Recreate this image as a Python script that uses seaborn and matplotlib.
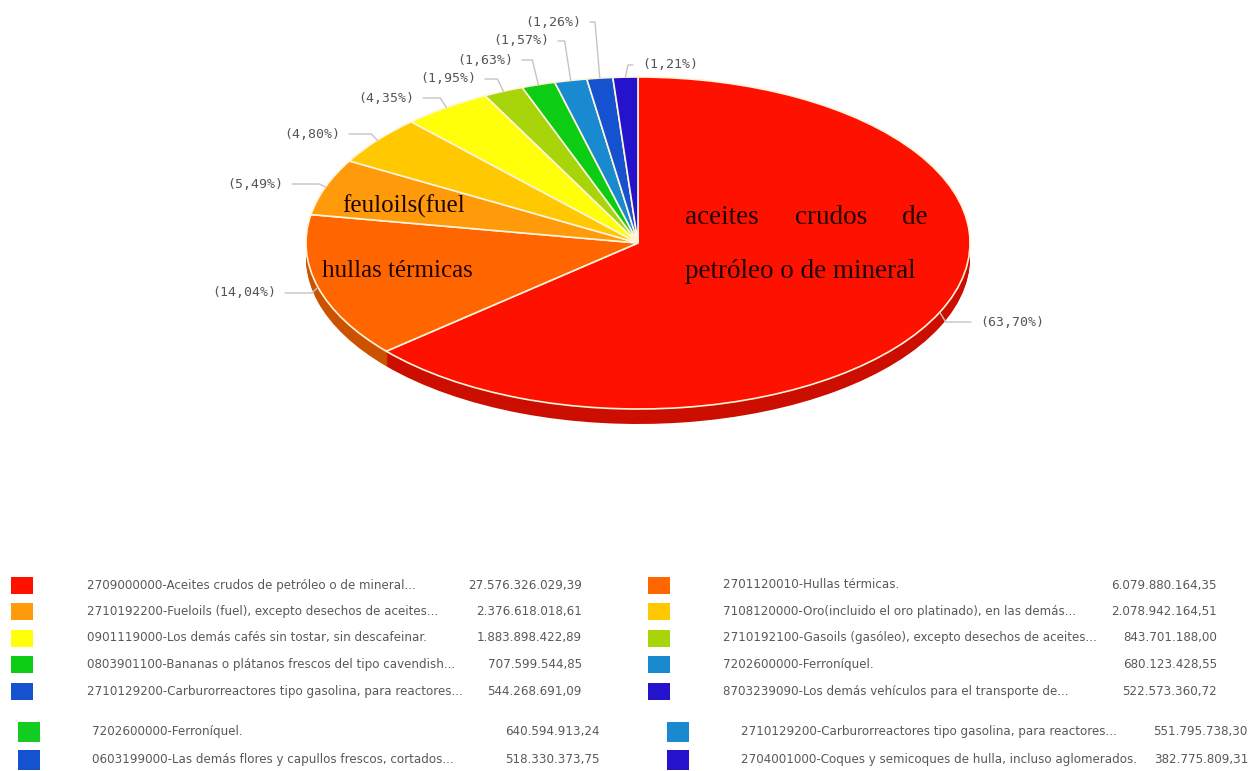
# Exportaciones - grafico de torta con leyenda
import numpy as np
import seaborn as sns
import matplotlib.pyplot as plt
from matplotlib.colors import to_rgb
from matplotlib.patches import Rectangle

sns.set_theme(style="white")

# Datos (top 10 productos, valores en USD)
products = [
    "2709000000-Aceites crudos de petróleo o de mineral...",
    "2701120010-Hullas térmicas.",
    "2710192200-Fueloils (fuel), excepto desechos de aceites...",
    "7108120000-Oro(incluido el oro platinado), en las demás...",
    "0901119000-Los demás cafés sin tostar, sin descafeinar.",
    "2710192100-Gasoils (gasóleo), excepto desechos de aceites...",
    "0803901100-Bananas o plátanos frescos del tipo cavendish...",
    "7202600000-Ferroníquel.",
    "2710129200-Carburorreactores tipo gasolina, para reactores...",
    "8703239090-Los demás vehículos para el transporte de...",
]
values = [27576326029.39, 6079880164.35, 2376618018.61, 2078942164.51,
          1883898422.89, 843701188.00, 707599544.85, 680123428.55,
          544268691.09, 522573360.72]
colors = ["#ff1100", "#ff6600", "#ff9a0a", "#ffc800", "#ffff0a",
          "#a8d40a", "#0ccc14", "#1a8ad0", "#1452d0", "#2412cc"]

# Segunda leyenda (pegada debajo)
products2 = [
    "7202600000-Ferroníquel.",
    "2710129200-Carburorreactores tipo gasolina, para reactores...",
    "0603199000-Las demás flores y capullos frescos, cortados...",
    "2704001000-Coques y semicoques de hulla, incluso aglomerados.",
]
values2 = [640594913.24, 551795738.30, 518330373.75, 382775809.31]
colors2 = ["#12cc22", "#1a8ad0", "#1452d0", "#2412cc"]

# Textos dentro de la torta
inner_texts = ["aceites", "crudos", "de", "petróleo o de mineral",
               "hullas térmicas", "feuloils(fuel"]


def money(v):
    s = f"{v:,.2f}"
    return s.replace(",", "X").replace(".", ",").replace("X", ".")


W, H = 1250, 771
fig = plt.figure(figsize=(12.5, 7.71), dpi=100)

# Torta "3D": elipse con lado oscuro
cx, cy, rx, ry, depth = 638, 243, 332, 166, 15
pax = fig.add_axes([(cx - rx) / W, (H - (cy + ry + depth)) / H,
                    2 * rx / W, (2 * ry + depth) / H])
d = depth / ry
dark = [tuple(c * 0.8 for c in to_rgb(col)) for col in colors]
for off in np.linspace(d, 0.0, 14)[:-1]:
    pax.pie(values, colors=dark, startangle=90, counterclock=False,
            center=(0, -off), wedgeprops=dict(linewidth=0))
wedges, _ = pax.pie(values, colors=colors, startangle=90, counterclock=False,
                    wedgeprops=dict(edgecolor="#fff4dc", linewidth=1.2))
pax.set_aspect("auto")
pax.set_xlim(-1, 1)
pax.set_ylim(-1 - d, 1)
pax.axis("off")

# capa superior en pixeles
lay = fig.add_axes([0, 0, 1, 1])
lay.set_xlim(0, W)
lay.set_ylim(H, 0)
lay.axis("off")

pct = np.array(values) / np.sum(values) * 100
label_pos = [(980, 322, "left"), (276, 293, "right"), (283, 184, "right"),
             (340, 134, "right"), (414, 98, "right"), (476, 79, "right"),
             (513, 60, "right"), (549, 41, "right"), (581, 22, "right"),
             (642, 65, "left")]
inv = lay.transData.inverted()
for w, p, (tx, ty, ha) in zip(wedges, pct, label_pos):
    ang = np.deg2rad((w.theta1 + w.theta2) / 2)
    ax_, ay_ = inv.transform(pax.transData.transform((np.cos(ang), np.sin(ang))))
    if ha == "right":
        sx = tx + 9
        ex = max(ax_ - 6, sx + 5)
    else:
        sx = tx - 9
        ex = min(ax_ + 6, sx - 5)
    lay.plot([sx, ex, ax_], [ty, ty, ay_], color="#c4c4c4", lw=1)
    lay.text(tx, ty, f"({p:.2f}%)".replace(".", ","), ha=ha, va="center",
             family="DejaVu Sans Mono", fontsize=9.5, color="#555555")

serif = dict(family="Liberation Serif", color="#1e0303", va="center")
lay.text(685, 218, inner_texts[0], ha="left", fontsize=19.5, **serif)
lay.text(831, 218, inner_texts[1], ha="center", fontsize=19.5, **serif)
lay.text(928, 218, inner_texts[2], ha="right", fontsize=19.5, **serif)
lay.text(685, 272, inner_texts[3], ha="left", fontsize=19.5, **serif)
lay.text(397, 271, inner_texts[4], ha="center", fontsize=18, **serif)
lay.text(404, 206, inner_texts[5], ha="center", fontsize=18, **serif)

# Leyenda 1: dos columnas, cinco filas
leg = dict(family="DejaVu Sans", fontsize=8.6, color="#595959", va="center")
for i, (name, val, col) in enumerate(zip(products, values, colors)):
    row, c = i // 2, i % 2
    y = 585 + 26.5 * row
    sq_x, tx, vx = (11, 87, 582) if c == 0 else (648, 723, 1217)
    lay.add_patch(Rectangle((sq_x, y - 8.5), 22, 17, color=col, lw=0))
    lay.text(tx, y, name, ha="left", **leg)
    lay.text(vx, y, money(val), ha="right", **leg)

# Leyenda 2
for i, (name, val, col) in enumerate(zip(products2, values2, colors2)):
    row, c = i // 2, i % 2
    y = 732 + 28 * row
    sq_x, tx, vx = (18, 92, 600) if c == 0 else (667, 741, 1248)
    lay.add_patch(Rectangle((sq_x, y - 10), 22, 20, color=col, lw=0))
    lay.text(tx, y, name, ha="left", **leg)
    lay.text(vx, y, money(val), ha="right", **leg)

fig.savefig("out.png", dpi=100, facecolor="white")
